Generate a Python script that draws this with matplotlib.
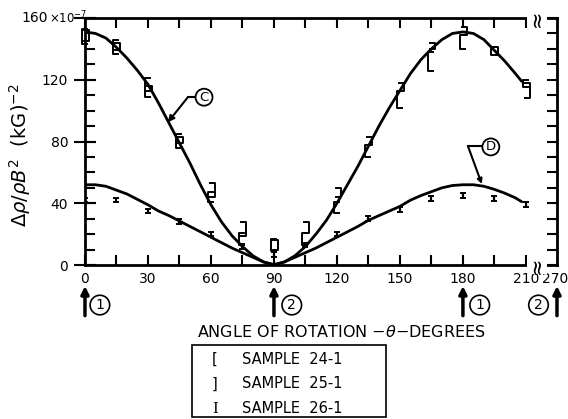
import numpy as np
import matplotlib
matplotlib.use("Agg")
import matplotlib.pyplot as plt
from matplotlib.patches import Rectangle
from matplotlib.ticker import MultipleLocator, FixedLocator

# ---- fitted curves (angle in degrees, value in units of 1e-7 (kG)^-2) ----
curve_angles = [0, 5, 10, 15, 20, 25, 30, 35, 40, 45, 50, 55, 60, 65, 70, 75, 80, 85,
                90, 95, 100, 105, 110, 115, 120, 125, 130, 135, 140, 145, 150, 155,
                160, 165, 170, 175, 180, 185, 190, 195, 200, 205, 208]
curve_c = [151, 150, 147, 141, 134, 126, 117, 105, 92, 79, 66, 52, 39, 28, 19, 12, 6, 2,
           0, 2, 6, 12, 20, 29, 40, 52, 64, 77, 90, 102, 113, 124,
           133, 140, 146, 150, 151, 150, 146, 139, 132, 124, 119]
curve_d = [52, 52, 51, 48.5, 46, 42.5, 39, 35, 32, 28.5, 25, 21.5, 18, 14.5, 11, 8, 5, 2,
           0.3, 2, 5, 8, 11, 14.5, 18, 21.5, 25, 29, 32, 35, 38, 42,
           45, 47.5, 50, 51.5, 52, 52, 51, 49, 46.5, 43.5, 41]

# ---- measured points ----
sample_angles = [0, 15, 30, 45, 60, 75, 90, 105, 120, 135, 150, 165, 180, 195, 210]
s24_low = [143, 137, 109, 76, 41, 13, 9, 13, 34, 70, 102, 126, 140, 136, 115]
s24_high = [153, 146, 121, 85, 47, 21, 17, 21, 41, 78, 113, 138, 149, 141, 120]
s25_low = [145, 139, 113, 79, 44, 19, 10, 21, 44, 78, 113, 140, 149, 136, 108]
s25_high = [152, 144, 116, 83, 53, 28, 16, 28, 50, 83, 118, 144, 154, 141, 118]
s26_val = [42, 42, 35, 28, 20, 12, 7, 13, 20, 30, 36, 43, 45, 43, 39]

x_major = [0, 30, 60, 90, 120, 150, 180, 210]
x_labels = ["0", "30", "60", "90", "120", "150", "180", "210"]
y_major = [0, 40, 80, 120, 160]
y_labels = ["0", "40", "80", "120", ""]
legend_entries = [("[", "SAMPLE  24-1"), ("]", "SAMPLE  25-1"), ("I", "SAMPLE  26-1")]

# the axis is broken after 210 deg; 270 sits at the right edge
X_END = 224.8
X_END_LABEL = "270"

plt.rcParams["font.family"] = ["DejaVu Sans"]
fig = plt.figure(figsize=(5.68, 4.19), dpi=100)
ax = fig.add_axes([0.1496, 0.3675, 0.8310, 0.5895])
ax.set_xlim(0, X_END)
ax.set_ylim(0, 160)

for s in ax.spines.values():
    s.set_linewidth(2)

# curves
ax.plot(curve_angles, curve_c, color="k", lw=2, solid_capstyle="round")
ax.plot(curve_angles, curve_d, color="k", lw=2, solid_capstyle="round")

# bracket markers drawn as [ and ] spanning each measured range
px = X_END / 472.0  # degrees per pixel
for a, lo, hi in zip(sample_angles, s24_low, s24_high):
    xl, xr = a - 3 * px, a + 2 * px
    ax.plot([xr, xl, xl, xr], [hi, hi, lo, lo], color="k", lw=1.4, clip_on=False)
for a, lo, hi in zip(sample_angles, s25_low, s25_high):
    xl, xr = a - 1 * px, a + 4 * px
    ax.plot([xl, xr, xr, xl], [hi, hi, lo, lo], color="k", lw=1.4, clip_on=False)
ax.errorbar(sample_angles, s26_val, yerr=1.5, fmt="none", ecolor="k",
            elinewidth=1.6, capsize=2, capthick=1.4)

# ticks
ax.xaxis.set_major_locator(FixedLocator(x_major + [X_END]))
ax.set_xticklabels(x_labels + [""])
ax.xaxis.set_minor_locator(FixedLocator([15, 45, 75, 105, 135, 165, 195]))
ax.yaxis.set_major_locator(FixedLocator(y_major))
ax.set_yticklabels(y_labels)
ax.yaxis.set_minor_locator(MultipleLocator(10))
ax.yaxis.remove_overlapping_locs = False
ax.tick_params(axis="x", which="both", direction="in", top=True, bottom=True,
               length=7, width=1.5, labelsize=10, pad=5)
ax.tick_params(axis="y", which="major", direction="inout", left=True, right=False,
               length=16, width=1.5, labelsize=10, pad=4)
ax.tick_params(axis="y", which="minor", direction="in", left=True, right=True,
               length=7, width=1.5)
for t in ax.xaxis.get_major_ticks()[-1:]:
    t.tick1line.set_visible(False)
    t.tick2line.set_visible(False)

tx = ax.get_xaxis_transform()
ax.annotate(X_END_LABEL, xy=(X_END, 0), xycoords=tx, xytext=(-1.5, -5),
            textcoords="offset points", ha="center", va="top", fontsize=10,
            annotation_clip=False)

# top label with exponent
fig.text(0.0845, 0.957, "160", ha="right", va="center", fontsize=10)
fig.text(0.0855, 0.957, r"$\times$10$^{-7}$", ha="left", va="center", fontsize=8.5)

# axis break marks
for yv in (0.0, 1.0):
    ax.text(215.2, yv, "\u2248", transform=tx, rotation=90,
            ha="center", va="center", fontsize=15, clip_on=False,
            bbox=dict(boxstyle="square,pad=0.0", fc="white", ec="none"))

ax.set_ylabel(r"$\Delta\rho/\rho B^2$  (kG)$^{-2}$", fontsize=14)
ax.yaxis.set_label_coords(-0.11, 0.445)

# curve labels
ax.annotate("", xy=(39.5, 92.5), xytext=(49, 108.7),
            arrowprops=dict(arrowstyle="-|>", lw=1.5, color="k", mutation_scale=9,
                            shrinkA=0, shrinkB=0))
ax.plot([49, 52.5], [108.7, 108.7], color="k", lw=1.5)
ax.text(56.7, 108.7, "C", ha="center", va="center", fontsize=9.5,
        bbox=dict(boxstyle="circle,pad=0.15", fc="white", ec="k", lw=1.3))

ax.plot([182.4, 189.3], [77, 77], color="k", lw=1.5)
ax.annotate("", xy=(189, 52.5), xytext=(182.4, 77),
            arrowprops=dict(arrowstyle="-|>", lw=1.5, color="k", mutation_scale=7,
                            shrinkA=0, shrinkB=0))
ax.text(193.3, 76.5, "D", ha="center", va="center", fontsize=9.5,
        bbox=dict(boxstyle="circle,pad=0.15", fc="white", ec="k", lw=1.3))

# orientation arrows under the axis
for a, lab, lx in [(0, "1", 7.1), (90, "2", 98.5), (180, "1", 188), (X_END, "2", 216)]:
    ax.annotate("", xy=(a, -0.085), xytext=(a, -0.205), xycoords=tx, textcoords=tx,
                arrowprops=dict(arrowstyle="-|>", lw=2.5, color="k", mutation_scale=11,
                                shrinkA=0, shrinkB=0), annotation_clip=False)
    ax.text(lx, -0.162, lab, transform=tx, ha="center", va="center", fontsize=10,
            bbox=dict(boxstyle="circle,pad=0.2", fc="white", ec="k", lw=1.2))

ax.text(122, -0.272, "ANGLE OF ROTATION \u2212$\\theta$\u2212DEGREES", transform=tx,
        ha="center", va="center", fontsize=11.5)

# legend box
fig.patches.append(Rectangle((0.338, 0.004), 0.342, 0.173, transform=fig.transFigure,
                             fill=False, ec="k", lw=1.2))
for i, (sym, lab) in enumerate(legend_entries):
    yy = 0.143 - i * 0.059
    fig.text(0.378, yy, sym, ha="center", va="center", fontsize=10.5,
             family="DejaVu Serif" if sym == "I" else "DejaVu Sans")
    fig.text(0.426, yy, lab, ha="left", va="center", fontsize=10.5)

fig.savefig("out.png", dpi=100)
